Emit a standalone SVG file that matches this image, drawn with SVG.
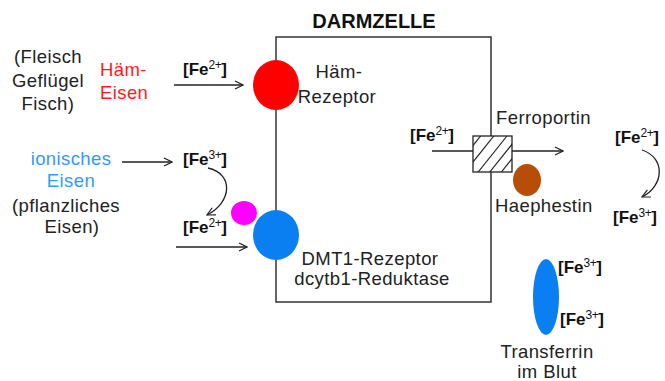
<svg xmlns="http://www.w3.org/2000/svg" width="665" height="381" viewBox="0 0 665 381">
<defs>
<style>
.t{font-family:"Liberation Sans",Arial,sans-serif;font-size:18.5px;letter-spacing:0.4px;fill:#222}
.fe{font-family:"Liberation Sans",Arial,sans-serif;font-size:17px;font-weight:bold;fill:#111}
.sup{font-size:12px;font-weight:normal;letter-spacing:-0.5px}
.ln{stroke:#222;stroke-width:1.3;fill:none}
</style>
<marker id="ah" markerWidth="10" markerHeight="10" refX="9" refY="5" orient="auto" markerUnits="userSpaceOnUse">
<path d="M1,1 L9,5 L1,9" fill="none" stroke="#222" stroke-width="1.2"/>
</marker>
<clipPath id="sq"><rect x="473" y="136" width="39" height="36"/></clipPath>
</defs>
<rect width="665" height="381" fill="#fff"/>

<g id="cell">
<rect x="276" y="37" width="215" height="265" fill="none" stroke="#333" stroke-width="1.5"/>
<text x="374" y="28" text-anchor="middle" font-family="Liberation Sans, Arial, sans-serif" font-size="20" font-weight="bold" fill="#111">DARMZELLE</text>
</g>

<g id="connectors">
<line class="ln" x1="174" y1="85" x2="243" y2="85" marker-end="url(#ah)"/>
<line class="ln" x1="122" y1="162" x2="172" y2="162" marker-end="url(#ah)"/>
<path class="ln" d="M208,168 C234,174 232,202 207,215" marker-end="url(#ah)"/>
<line class="ln" x1="176" y1="247" x2="247" y2="247" marker-end="url(#ah)"/>
<line class="ln" x1="432" y1="151" x2="563" y2="151" marker-end="url(#ah)"/>
<path class="ln" d="M642,150 C666,158 664,186 642,197" marker-end="url(#ah)"/>
</g>

<g id="fleisch">
<text class="t" text-anchor="middle"><tspan x="48" y="63">(Fleisch</tspan><tspan x="48" y="87">Geflügel</tspan><tspan x="48" y="110">Fisch)</tspan></text>
</g>
<g id="haem-eisen">
<text class="t" style="fill:#FF1A1A"><tspan x="100" y="76">Häm-</tspan><tspan x="100" y="99">Eisen</tspan></text>
</g>
<g id="fe2-a"><text class="fe" x="183" y="75">[Fe<tspan class="sup" dy="-6">2+</tspan><tspan dy="6">]</tspan></text></g>

<g id="haem-rezeptor">
<ellipse cx="276" cy="85" rx="23" ry="25" fill="#FF0000"/>
<text class="t" text-anchor="middle"><tspan x="339" y="78">Häm-</tspan><tspan x="337" y="103">Rezeptor</tspan></text>
</g>

<g id="ionisches">
<text class="t" text-anchor="middle"><tspan x="71" y="165" style="fill:#3399FF">ionisches</tspan><tspan x="71" y="187" style="fill:#3399FF">Eisen</tspan><tspan x="66" y="212">(pflanzliches</tspan><tspan x="72" y="233">Eisen)</tspan></text>
</g>
<g id="fe3-a"><text class="fe" x="183" y="165">[Fe<tspan class="sup" dy="-6">3+</tspan><tspan dy="6">]</tspan></text></g>
<g id="fe2-b"><text class="fe" x="183" y="233">[Fe<tspan class="sup" dy="-6">2+</tspan><tspan dy="6">]</tspan></text></g>

<g id="reduktase"><ellipse cx="244" cy="213" rx="13" ry="12" fill="#FF00FF"/></g>
<g id="dmt1">
<ellipse cx="276" cy="235" rx="23" ry="25" fill="#0A7FF2"/>
<text class="t" text-anchor="middle"><tspan x="370" y="265">DMT1-Rezeptor</tspan><tspan x="372" y="285">dcytb1-Reduktase</tspan></text>
</g>

<g id="fe2-c"><text class="fe" x="410" y="141">[Fe<tspan class="sup" dy="-6">2+</tspan><tspan dy="6">]</tspan></text></g>

<g id="ferroportin">
<rect x="473" y="136" width="39" height="36" fill="#fff"/>
<g clip-path="url(#sq)" stroke="#222" stroke-width="1.1">
<line x1="455" y1="168" x2="487" y2="128"/>
<line x1="465" y1="172" x2="497" y2="132"/>
<line x1="475" y1="176" x2="507" y2="136"/>
<line x1="485" y1="178" x2="517" y2="138"/>
<line x1="495" y1="180" x2="527" y2="140"/>
</g>
<rect x="473" y="136" width="39" height="36" fill="none" stroke="#222" stroke-width="1.3"/>
<text class="t" x="496" y="124">Ferroportin</text>
</g>

<g id="haephestin">
<ellipse cx="527" cy="180" rx="14" ry="16" fill="#B84D08"/>
<text class="t" x="495" y="212">Haephestin</text>
</g>

<g id="fe2-d"><text class="fe" x="615" y="143">[Fe<tspan class="sup" dy="-6">2+</tspan><tspan dy="6">]</tspan></text></g>
<g id="fe3-b"><text class="fe" x="613" y="223">[Fe<tspan class="sup" dy="-6">3+</tspan><tspan dy="6">]</tspan></text></g>

<g id="transferrin">
<ellipse cx="546" cy="297" rx="13" ry="38" fill="#0A7FF2"/>
<text class="fe" x="558" y="273">[Fe<tspan class="sup" dy="-6">3+</tspan><tspan dy="6">]</tspan></text>
<text class="fe" x="560" y="325">[Fe<tspan class="sup" dy="-6">3+</tspan><tspan dy="6">]</tspan></text>
<text class="t" text-anchor="middle"><tspan x="547" y="358">Transferrin</tspan><tspan x="547" y="378">im Blut</tspan></text>
</g>
</svg>
